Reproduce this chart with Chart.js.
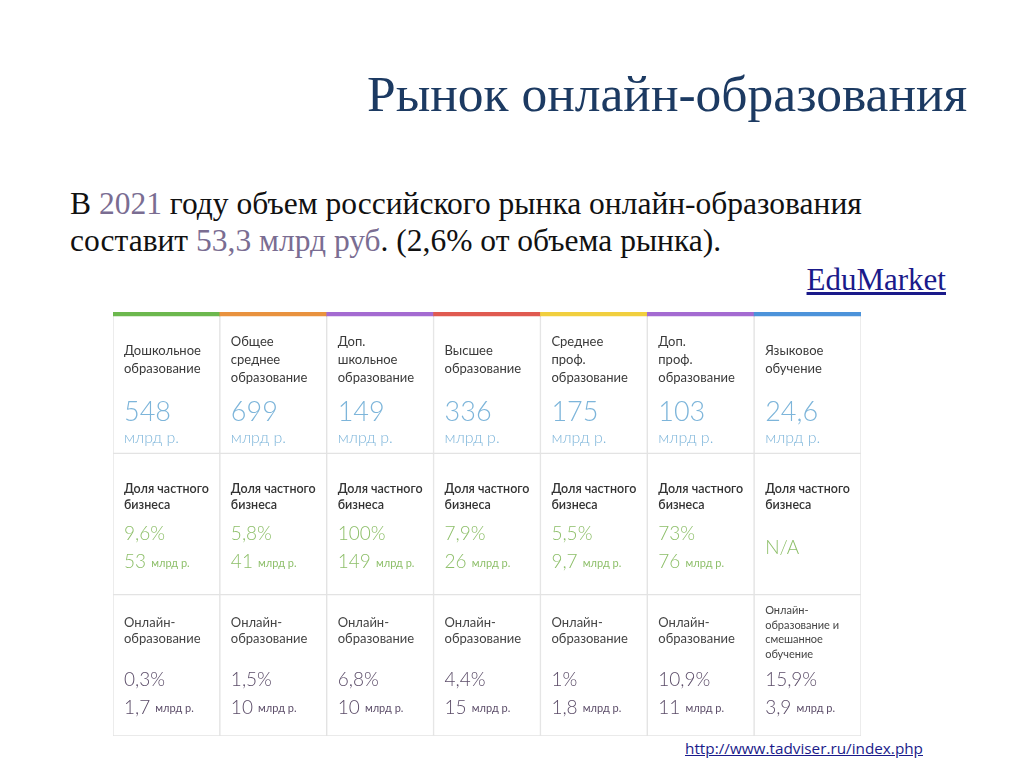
<!DOCTYPE html>
<html lang="ru">
<head>
<meta charset="utf-8">
<script src="https://cdn.jsdelivr.net/npm/chart.js@4.4.1/dist/chart.umd.min.js"></script>
<style>
  html, body { margin: 0; padding: 0; background: #fff; }
  body { width: 1024px; height: 767px; position: relative; overflow: hidden; font-family: "Liberation Serif", serif; }
  #titulo { position: absolute; left: 367px; top: 64px; font-size: 51.5px; color: #1c3a62; white-space: nowrap; }
  #texto { position: absolute; left: 70px; top: 185px; font-size: 31.5px; line-height: 37px; color: #111; white-space: nowrap; }
  #texto .destaque { color: #7a6d92; }
  #fonte { position: absolute; right: 78px; top: 262px; font-size: 31px; color: #1a1a8a; text-decoration: underline; }
  #link { position: absolute; left: 685px; top: 738px; font-family: "Open Sans", sans-serif; font-size: 15.3px; color: #1a1a8a; text-decoration: underline; }
  #quadro { position: absolute; left: 113px; top: 312px; width: 748px; height: 424px; }
</style>
</head>
<body>
<div id="titulo">Рынок онлайн-образования</div>
<div id="texto">В <span class="destaque">2021</span> году объем российского рынка онлайн-образования<br>составит <span class="destaque">53,3 млрд руб</span>. (2,6% от объема рынка).</div>
<div id="fonte">EduMarket</div>
<div id="quadro"><canvas id="meuGrafico"></canvas></div>
<div id="link">http://www.tadviser.ru/index.php</div>
<script>
// Colunas da tabela (segmentos do mercado)
const categorias = [
    ['Дошкольное', 'образование'],
    ['Общее', 'среднее', 'образование'],
    ['Доп.', 'школьное', 'образование'],
    ['Высшее', 'образование'],
    ['Среднее', 'проф.', 'образование'],
    ['Доп.', 'проф.', 'образование'],
    ['Языковое', 'обучение']
];
// Volume do segmento, млрд р.
const volumes = ['548', '699', '149', '336', '175', '103', '24,6'];
// Parte do negócio privado
const partePrivada = ['9,6%', '5,8%', '100%', '7,9%', '5,5%', '73%', 'N/A'];
const valorPrivado = ['53', '41', '149', '26', '9,7', '76', ''];
// Educação online
const rotulosOnline = [
    ['Онлайн-', 'образование'],
    ['Онлайн-', 'образование'],
    ['Онлайн-', 'образование'],
    ['Онлайн-', 'образование'],
    ['Онлайн-', 'образование'],
    ['Онлайн-', 'образование'],
    ['Онлайн-', 'образование и', 'смешанное', 'обучение']
];
const parteOnline = ['0,3%', '1,5%', '6,8%', '4,4%', '1%', '10,9%', '15,9%'];
const valorOnline = ['1,7', '10', '10', '15', '1,8', '11', '3,9'];
// Cores das faixas no topo de cada coluna
const coresTopo = ['#6cb84e', '#e9923e', '#a46bd1', '#e05a50', '#f1cf3e', '#a46bd1', '#4c93da'];

const labels = categorias.map(c => c.join(' '));
const linhas = [0, 1, 2];

const FONTE = '"Lato", "Open Sans", sans-serif';

// Plugin que escreve o texto de cada célula
const textoCelulas = {
    id: 'textoCelulas',
    afterDatasetsDraw(chart) {
        const ctx = chart.ctx;
        const meta = chart.getDatasetMeta(0);
        const y = chart.scales.y;
        ctx.save();
        ctx.textBaseline = 'middle';
        ctx.textAlign = 'left';
        meta.data.forEach((barra, i) => {
            const x0 = barra.x - barra.width / 2 + 11;

            // linha 1: segmento + volume
            let topo = y.getPixelForValue(0);
            const cat = categorias[i];
            ctx.fillStyle = '#3a3a3a';
            ctx.font = '13px ' + FONTE;
            const inicio = cat.length === 3 ? 30 : 39;
            cat.forEach((t, k) => ctx.fillText(t, x0, topo + inicio + k * 18));
            ctx.fillStyle = '#7db5da';
            ctx.font = '300 27px ' + FONTE;
            ctx.fillText(volumes[i], x0, topo + 100);
            ctx.font = '300 16px ' + FONTE;
            ctx.fillText('млрд р.', x0, topo + 126);

            // linha 2: parte privada
            topo = y.getPixelForValue(1);
            ctx.fillStyle = '#333';
            ctx.font = '600 12.5px ' + FONTE;
            ctx.fillText('Доля частного', x0, topo + 36);
            ctx.fillText('бизнеса', x0, topo + 52);
            ctx.fillStyle = '#8dbf69';
            ctx.font = '300 19px ' + FONTE;
            if (valorPrivado[i] === '') {
                ctx.fillText(partePrivada[i], x0, topo + 95);
            } else {
                ctx.fillText(partePrivada[i], x0, topo + 81);
                ctx.fillText(valorPrivado[i], x0, topo + 109);
                const w = ctx.measureText(valorPrivado[i] + ' ').width;
                ctx.font = '11px ' + FONTE;
                ctx.fillText('млрд р.', x0 + w, topo + 110);
            }

            // linha 3: online
            topo = y.getPixelForValue(2);
            const rot = rotulosOnline[i];
            ctx.fillStyle = '#444';
            if (rot.length > 2) {
                ctx.font = '11px ' + FONTE;
                rot.forEach((t, k) => ctx.fillText(t, x0, topo + 16 + k * 14.5));
            } else {
                ctx.font = '13px ' + FONTE;
                rot.forEach((t, k) => ctx.fillText(t, x0, topo + 28 + k * 16));
            }
            ctx.fillStyle = '#5b4c68';
            ctx.font = '300 19px ' + FONTE;
            ctx.fillText(parteOnline[i], x0, topo + 85);
            ctx.fillText(valorOnline[i], x0, topo + 113);
            const w2 = ctx.measureText(valorOnline[i] + ' ').width;
            ctx.font = '11px ' + FONTE;
            ctx.fillText('млрд р.', x0 + w2, topo + 114);
        });
        ctx.restore();
    }
};

// Cada célula é uma barra flutuante [linha, linha + 1]
const datasets = linhas.map(r => ({
    data: labels.map(() => [r, r + 1]),
    backgroundColor: '#ffffff',
    borderColor: '#e3e3e3',
    borderWidth: 1,
    borderSkipped: false,
    barPercentage: 1,
    categoryPercentage: 1,
    grouped: false
}));
// Faixa colorida no topo (order -1 para ficar por cima das células)
datasets.push({
    data: labels.map(() => [0, 0.028]),
    backgroundColor: coresTopo,
    borderWidth: 0,
    barPercentage: 1,
    categoryPercentage: 1,
    grouped: false,
    order: -1
});

const config = {
    type: 'bar',
    data: { labels: labels, datasets: datasets },
    options: {
        responsive: true,
        maintainAspectRatio: false,
        animation: false,
        layout: { padding: 0 },
        plugins: { legend: { display: false }, tooltip: { enabled: false } },
        scales: {
            x: { display: false },
            y: { display: false, min: 0, max: 3, reverse: true }
        }
    },
    plugins: [textoCelulas]
};

const meuGrafico = new Chart(document.getElementById('meuGrafico'), config);
</script>
</body>
</html>
